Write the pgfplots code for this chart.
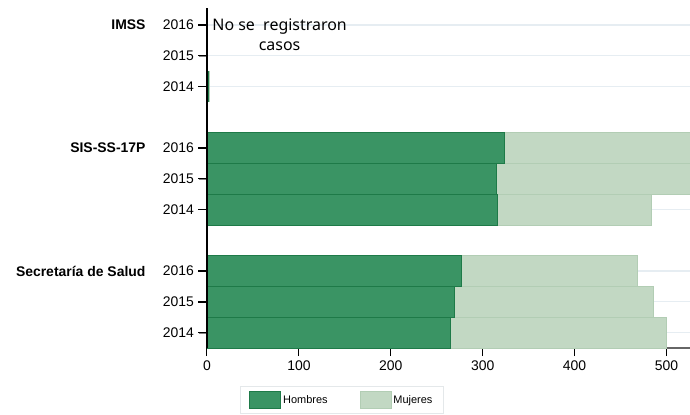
\documentclass[border=0pt]{standalone}
\usepackage{pgfplots}
\pgfplotsset{compat=1.18}
\usepackage{fontspec}
\setmainfont{Liberation Sans}
\newfontfamily\notefont{Noto Sans}

\definecolor{hombres}{HTML}{3A9464}
\definecolor{hombresedge}{HTML}{1E7A48}
\definecolor{mujeres}{HTML}{C2D8C3}
\definecolor{mujeresedge}{HTML}{B2CDB4}
\definecolor{gridc}{HTML}{E6EDF2}
\definecolor{legendc}{HTML}{E4E8EA}

\begin{document}
\begin{tikzpicture}
\begin{axis}[
  scale only axis,
  width=483bp, height=340bp,
  xbar stacked, bar width=1,
  xmin=0, xmax=525.6,
  ymin=-0.5, ymax=10.55,
  axis x line*=bottom, axis y line*=left,
  x axis line style={draw=black!60, line width=1.3bp},
  y axis line style={draw=black, line width=1bp},
  xtick={0,100,...,500},
  ytick={0,1,2,4,5,6,8,9,10},
  yticklabels={2014,2015,2016,2014,2015,2016,2014,2015,2016},
  tick align=outside, major tick length=8bp,
  xtick style={draw=black, line width=1bp},
  ymajorgrids, grid style={draw=gridc, line width=1.3bp},
  tick label style={font=\fontsize{14}{16}\selectfont},
  /pgf/number format/assume math mode=true,
  xticklabel style={yshift=-1bp},
  yticklabel style={xshift=-1.5bp},
  legend columns=2,
  legend style={at={(0.068,-0.112)}, anchor=north west,
    draw=legendc, line width=1bp,
    font=\fontsize{11}{13}\selectfont,
    inner xsep=9bp, inner ysep=4.5bp,
    /tikz/every even column/.append style={column sep=30bp}},
  legend image code/.code={\draw[#1] (0bp,-8.5bp) rectangle (31bp,8.5bp);},
  after end axis/.code={
    \node[anchor=east, font=\bfseries\fontsize{14}{16}\selectfont]
      at ([xshift=-58bp]axis cs:0,10) {IMSS};
    \node[anchor=east, font=\bfseries\fontsize{14}{16}\selectfont]
      at ([xshift=-58bp]axis cs:0,6) {SIS-SS-17P};
    \node[anchor=east, font=\bfseries\fontsize{14}{16}\selectfont]
      at ([xshift=-58bp]axis cs:0,2) {Secretaría de Salud};
    \node[align=center, font=\notefont\fontsize{16}{20}\selectfont]
      at (axis cs:79,9.67) {No se~ registraron\\casos};
    \coordinate (sw) at (rel axis cs:0,0);
    \coordinate (nw) at (rel axis cs:0,1);
    \coordinate (ne) at (rel axis cs:1,1);
  },
]
\addplot[fill=hombres, draw=hombresedge, line width=0.8bp] coordinates {
  (265,0) (269,1) (277,2)
  (316,4) (315,5) (324,6)
  (1,8) (0,9) (0,10)};
\addplot[fill=mujeres, draw=mujeresedge, line width=0.8bp] coordinates {
  (235,0) (217,1) (191,2)
  (168,4) (250,5) (250,6)
  (2,8) (0,9) (0,10)};
\legend{Hombres,Mujeres}
\end{axis}
% y axis line and its ticks, drawn on top of the bars
\draw[black, line width=1.1bp] (sw) -- (nw);
\foreach \yy in {0,1,2,4,5,6,8,9,10}{
  \pgfmathsetmacro{\yoff}{(\yy+0.5)*340/11.05}
  \draw[black, line width=1.4bp] ([yshift=\yoff bp]sw) -- ++(-8.5bp,0);
}
\pgfresetboundingbox
\path[use as bounding box] ([xshift=-207bp,yshift=-67bp]sw) rectangle ([yshift=8bp]ne);
\end{tikzpicture}
\end{document}
